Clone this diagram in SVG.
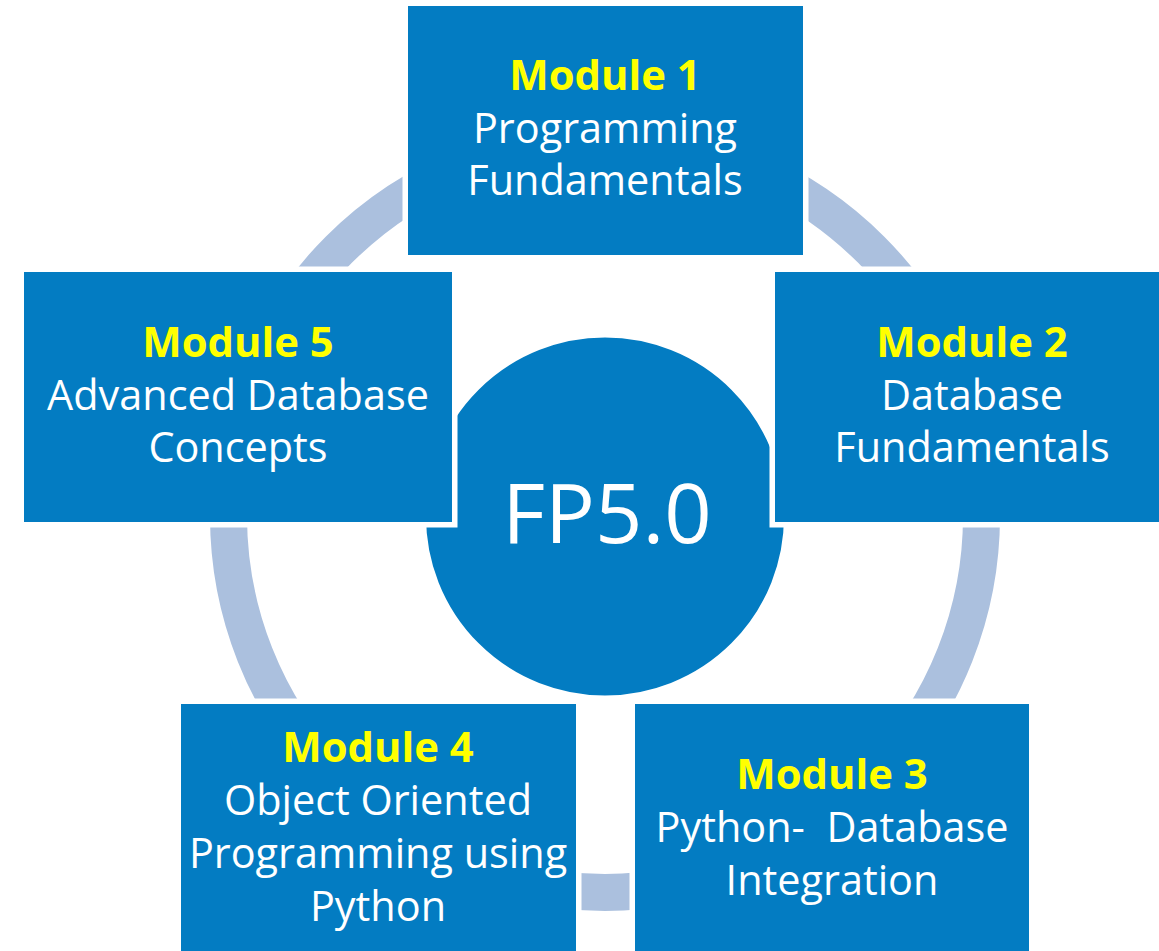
<svg xmlns="http://www.w3.org/2000/svg" width="1159" height="951" viewBox="0 0 1159 951">
<style>
.box{fill:#037CC2;stroke:#FFFFFF;stroke-width:5.5}
.t{font-family:"Open Sans","Noto Sans","Liberation Sans",sans-serif;font-size:41.4px;fill:#FFFFFF;text-anchor:middle}
.h{font-family:"Open Sans","Noto Sans","Liberation Sans",sans-serif;font-size:41.8px;font-weight:bold;fill:#FFFF00;text-anchor:middle}
</style>
<rect width="1159" height="951" fill="#FFFFFF"/>
<g id="connectors">
<circle cx="605" cy="516" r="376.5" fill="none" stroke="#ABC0DE" stroke-width="37"/>
</g>
<g id="center">
<circle cx="605" cy="516.5" r="181.5" fill="#037CC2" stroke="#FFFFFF" stroke-width="5"/>
<text x="607" y="543" style="font-family:'Open Sans','Noto Sans','Liberation Sans',sans-serif;font-size:83px;fill:#FFFFFF;text-anchor:middle">FP5.0</text>
</g>
<g id="module1">
<rect class="box" x="405.25" y="3.25" width="400.5" height="254.5"/>
<text class="h" x="605" y="90">Module 1</text>
<text class="t" x="605" y="143">Programming</text>
<text class="t" x="605" y="195">Fundamentals</text>
</g>
<g id="module2">
<rect class="box" x="772.25" y="269.25" width="400.5" height="255.5"/>
<text class="h" x="972" y="357">Module 2</text>
<text class="t" x="972" y="410">Database</text>
<text class="t" x="972" y="462">Fundamentals</text>
</g>
<g id="module3">
<rect class="box" x="632.25" y="701.25" width="399.5" height="260"/>
<text class="h" x="832" y="789">Module 3</text>
<text class="t" x="832" y="842" xml:space="preserve">Python-  Database</text>
<text class="t" x="832" y="895">Integration</text>
</g>
<g id="module4">
<rect class="box" x="178.25" y="701.25" width="400.5" height="260"/>
<text class="h" x="378" y="762">Module 4</text>
<text class="t" x="378" y="815">Object Oriented</text>
<text class="t" x="378" y="868">Programming using</text>
<text class="t" x="378" y="921">Python</text>
</g>
<g id="module5">
<rect class="box" x="21.25" y="269.25" width="433.5" height="255.5"/>
<text class="h" x="238" y="357">Module 5</text>
<text class="t" x="238" y="410">Advanced Database</text>
<text class="t" x="238" y="462">Concepts</text>
</g>
</svg>
